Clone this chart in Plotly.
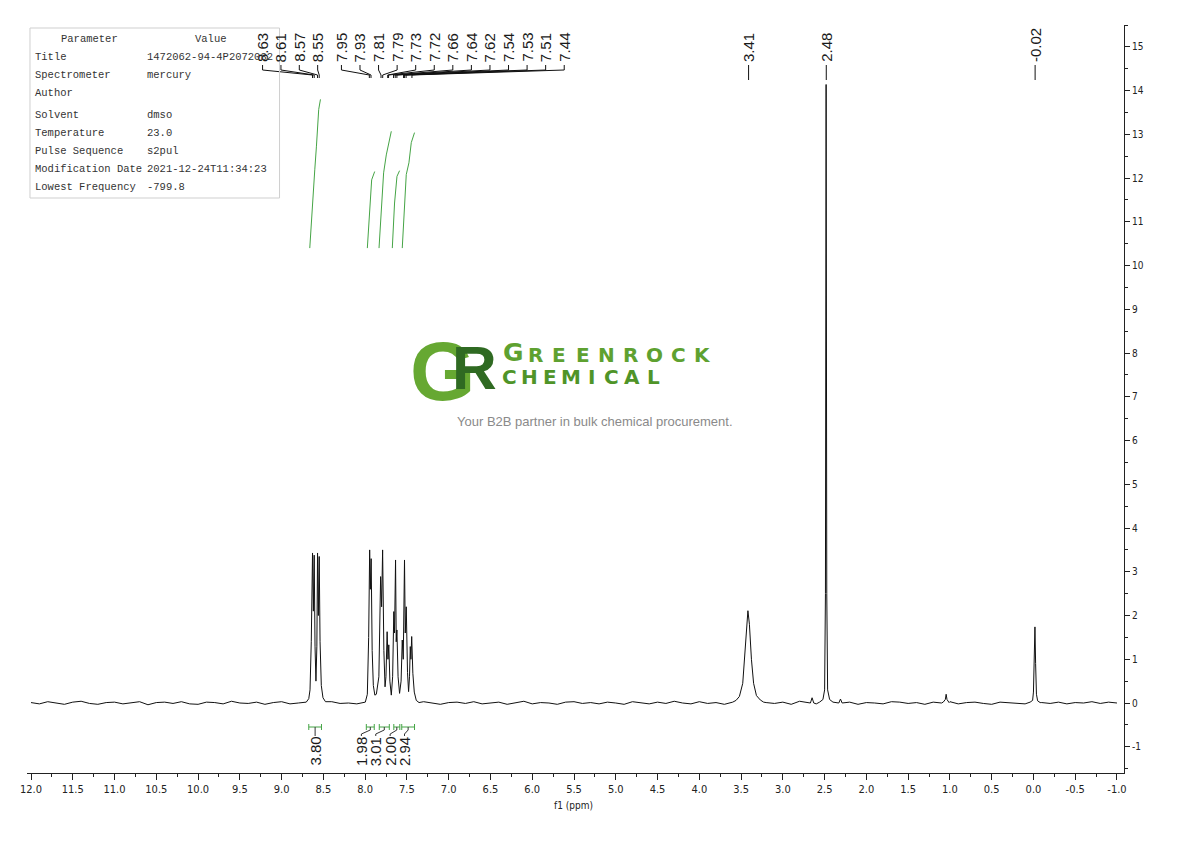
import numpy as np
import plotly.graph_objects as go

# ---------------- data ----------------
# baseline noise sampled every 0.1 ppm from 12.0 to -1.0
baseline_grid = np.round(np.arange(12.0, -1.0001, -0.1), 2)
baseline_noise = [
    0.01, -0.02, 0.03, 0.00, -0.03, 0.02, 0.04, -0.01, -0.03, 0.01,
    0.02, -0.02, 0.00, 0.03, -0.04, 0.01, 0.02, -0.01, 0.03, -0.02,
    -0.03, 0.02, 0.01, -0.02, 0.04, 0.00, -0.01, 0.02, -0.03, 0.01,
    0.03, -0.02, 0.00, 0.02, -0.04, 0.01, 0.03, -0.01, 0.00, -0.02,
    0.02, 0.04, -0.03, 0.01, -0.01, 0.02, -0.02, 0.03, 0.00, -0.03,
    0.01, 0.02, -0.01, 0.03, -0.02, 0.00, 0.02, -0.03, 0.01, 0.04,
    -0.02, 0.01, 0.00, -0.03, 0.02, 0.03, -0.01, 0.01, -0.02, 0.02,
    0.00, -0.03, 0.03, 0.01, -0.02, 0.02, -0.01, 0.04, 0.00, -0.02,
    0.03, -0.01, 0.01, -0.03, 0.02, 0.00, 0.03, -0.02, 0.01, -0.01,
    0.02, -0.03, 0.04, 0.00, -0.02, 0.01, 0.03, -0.01, 0.02, -0.03,
    0.01, 0.00, -0.02, 0.03, 0.02, -0.01, 0.01, -0.03, 0.02, 0.00,
    0.03, -0.02, 0.01, 0.02, -0.01, -0.03, 0.02, 0.01, 0.00, -0.02,
    0.03, 0.01, -0.01, 0.02, -0.02, 0.01, 0.00, 0.03, -0.01, 0.02, 0.00,
]

# peak clusters (ppm, intensity)
peak_a_ppm = [8.705, 8.675, 8.660, 8.645, 8.630, 8.620, 8.610, 8.600, 8.589,
              8.578, 8.570, 8.560, 8.550, 8.540, 8.525, 8.505, 8.475]
peak_a_int = [0.02, 0.10, 0.30, 1.40, 3.43, 2.10, 3.38, 1.30, 0.50,
              1.30, 3.43, 2.00, 3.35, 1.40, 0.40, 0.12, 0.03]

peak_b_ppm = [7.998, 7.974, 7.958, 7.946, 7.938, 7.928, 7.916, 7.902, 7.884, 7.866,
              7.836, 7.815, 7.803, 7.791, 7.776, 7.762, 7.751, 7.737, 7.727, 7.717,
              7.704, 7.687, 7.671, 7.657, 7.648, 7.636, 7.628, 7.620, 7.606, 7.588,
              7.570, 7.556, 7.544, 7.529, 7.520, 7.508, 7.493, 7.480, 7.469, 7.460,
              7.452, 7.443, 7.429, 7.412, 7.388, 7.355]
peak_b_int = [0.02, 0.20, 1.50, 3.50, 2.60, 3.30, 1.20, 0.40, 0.18, 0.20,
              0.60, 2.89, 2.20, 3.50, 1.20, 0.37, 0.60, 1.63, 1.00, 1.33,
              0.50, 0.18, 0.60, 2.09, 1.60, 3.27, 1.40, 1.67, 0.60, 0.22,
              0.50, 1.44, 1.00, 3.27, 1.60, 2.20, 0.70, 0.26, 0.60, 1.29,
              1.00, 1.52, 0.68, 0.25, 0.06, 0.01]

peak_water_ppm = [3.60, 3.56, 3.52, 3.48, 3.460, 3.440, 3.418, 3.400, 3.376, 3.350, 3.316, 3.27, 3.23]
peak_water_int = [0.02, 0.06, 0.15, 0.45, 0.95, 1.65, 2.11, 1.80, 1.00, 0.45, 0.17, 0.07, 0.02]

peak_dmso_ppm = [2.56, 2.52, 2.50, 2.490, 2.482, 2.474, 2.464, 2.44, 2.40]
peak_dmso_int = [0.02, 0.08, 0.30, 2.50, 14.14, 2.50, 0.30, 0.08, 0.02]

peak_small1_ppm = [2.67, 2.65, 2.63]
peak_small1_int = [0.00, 0.12, 0.00]
peak_small2_ppm = [2.33, 2.31, 2.29]
peak_small2_int = [0.00, 0.09, 0.00]
peak_small3_ppm = [1.08, 1.055, 1.045, 1.035, 1.01]
peak_small3_int = [0.02, 0.08, 0.20, 0.08, 0.01]

peak_tms_ppm = [0.04, 0.01, 0.000, -0.010, -0.018, -0.026, -0.036, -0.05, -0.08]
peak_tms_int = [0.02, 0.06, 0.25, 1.00, 1.74, 0.90, 0.20, 0.05, 0.01]

# peak pick labels
peak_labels_a = [8.63, 8.61, 8.57, 8.55]
peak_labels_b = [7.95, 7.93, 7.81, 7.79, 7.73, 7.72, 7.66, 7.64, 7.62, 7.54, 7.53, 7.51, 7.44]
peak_labels_single = [3.41, 2.48, -0.02]

# integrals
integral_values = [3.80, 1.98, 3.01, 2.00, 2.94]
integral_from = [8.675, 7.986, 7.831, 7.657, 7.562]
integral_to = [8.523, 7.891, 7.711, 7.585, 7.409]

# integral curves (ppm, curve height)
int_curve_ppm = [
    [8.663, 8.631, 8.603, 8.583, 8.556, 8.535],
    [7.974, 7.946, 7.922, 7.886],
    [7.834, 7.806, 7.779, 7.747, 7.707, 7.687],
    [7.675, 7.648, 7.619, 7.588],
    [7.556, 7.535, 7.508, 7.476, 7.448, 7.409],
]
int_curve_val = [
    [10.40, 11.50, 12.19, 12.73, 13.57, 13.80],
    [10.40, 11.35, 11.96, 12.15],
    [10.40, 11.43, 12.12, 12.53, 12.95, 13.07],
    [10.40, 11.43, 12.04, 12.17],
    [10.40, 11.28, 12.08, 12.35, 12.81, 13.04],
]

# parameter table
param_names = ["Title", "Spectrometer", "Author", "Solvent", "Temperature",
               "Pulse Sequence", "Modification Date", "Lowest Frequency"]
param_values = ["1472062-94-4P2072082", "mercury", "", "dmso", "23.0",
                "s2pul", "2021-12-24T11:34:23", "-799.8"]

x_ticks = np.round(np.arange(12.0, -1.0001, -0.5), 1)
y_ticks = list(range(-1, 16))

# ---------------- layout geometry ----------------
OFF = 8                      # page body margin
W, H = 1190 - 2 * OFF, 841 - 2 * OFF
PL, PR, PT, PB = 25, 1124, 25, 773       # plot area in window pixels
X_RANGE = [12.048, -1.084]
Y_RANGE = [-1.60, 15.50]


def px2x(px):
    return X_RANGE[0] + (px - PL) / (PR - PL) * (X_RANGE[1] - X_RANGE[0])


def py2y(py):
    return Y_RANGE[1] - (py - PT) / (PB - PT) * (Y_RANGE[1] - Y_RANGE[0])


def px2p(px):
    return (px - PL) / (PR - PL)


def py2p(py):
    return (PB - py) / (PB - PT)


PPM_PER_PX = (X_RANGE[0] - X_RANGE[1]) / (PR - PL)

ARIAL = "Liberation Sans, Arial, sans-serif"
NARROW = "Liberation Sans Narrow, DejaVu Sans Condensed, Roboto Condensed, Liberation Sans, sans-serif"
MONO = "Liberation Mono, DejaVu Sans Mono, monospace"
GREEN = "#45a445"

# ---------------- build spectrum ----------------
peaks = [
    (peak_a_ppm, peak_a_int), (peak_b_ppm, peak_b_int),
    (peak_water_ppm, peak_water_int), (peak_dmso_ppm, peak_dmso_int),
    (peak_small1_ppm, peak_small1_int), (peak_small2_ppm, peak_small2_int),
    (peak_small3_ppm, peak_small3_int), (peak_tms_ppm, peak_tms_int),
]
windows = [(min(p), max(p)) for p, _ in peaks]
pts = []
for g, n in zip(baseline_grid, baseline_noise):
    if not any(lo - 0.005 <= g <= hi + 0.005 for lo, hi in windows):
        pts.append((float(g), n))
for p, v in peaks:
    pts.extend(zip(p, v))
pts.sort(key=lambda t: -t[0])
spec_x = [p[0] for p in pts]
spec_y = [p[1] for p in pts]

fig = go.Figure()
fig.add_trace(go.Scatter(x=spec_x, y=spec_y, mode="lines",
                         line=dict(color="#111111", width=1), hoverinfo="skip"))

# integral curves
cx, cy = [], []
for xs, ys in zip(int_curve_ppm, int_curve_val):
    cx += xs + [None]
    cy += ys + [None]
fig.add_trace(go.Scatter(x=cx, y=cy, mode="lines",
                         line=dict(color=GREEN, width=1), hoverinfo="skip"))

# integral brackets
bx, by = [], []
yb = py2y(727)
tick = 3 * (Y_RANGE[1] - Y_RANGE[0]) / (PB - PT)
for a, b in zip(integral_from, integral_to):
    bx += [a, b, None, a, a, None, b, b, None]
    by += [yb, yb, None, yb - tick, yb + tick, None, yb - tick, yb + tick, None]
fig.add_trace(go.Scatter(x=bx, y=by, mode="lines",
                         line=dict(color=GREEN, width=1), hoverinfo="skip"))

# integral labels + connectors
annotations = []
int_label_x = [(integral_from[0] + integral_to[0]) / 2]
g2_start = px2x(360)
for i in range(1, len(integral_values)):
    int_label_x.append(g2_start - (i - 1) * 14.4 * PPM_PER_PX)
kx, ky = [], []
for i, v in enumerate(integral_values):
    c = (integral_from[i] + integral_to[i]) / 2
    lx = int_label_x[i]
    kx += [c, c, lx, lx, None]
    ky += [yb, py2y(730), py2y(734), py2y(736), None]
    annotations.append(dict(x=lx, y=py2y(735), xref="x", yref="y", text=f"{v:.2f}",
                            textangle=-90, showarrow=False, xanchor="center", yanchor="top",
                            font=dict(family=ARIAL, size=15, color="#1a1a1a")))
fig.add_trace(go.Scatter(x=kx, y=ky, mode="lines",
                         line=dict(color="#333333", width=1), hoverinfo="skip"))

# peak labels
lab_x, lab_peak = [], []
g1_start = px2x(261)
for i, v in enumerate(peak_labels_a):
    lab_x.append(g1_start - i * 18.4 * PPM_PER_PX)
    lab_peak.append(v)
g2 = px2x(340)
for i, v in enumerate(peak_labels_b):
    lab_x.append(g2 - i * 18.6 * PPM_PER_PX)
    lab_peak.append(v)
for v in peak_labels_single:
    lab_x.append(v)
    lab_peak.append(v)

lx_, ly_ = [], []
for lx, pv in zip(lab_x, lab_peak):
    if pv in peak_labels_single:
        lx_ += [lx, lx, None]
        ly_ += [py2y(65), py2y(80), None]
    else:
        lx_ += [lx, lx, pv, pv, None]
        ly_ += [py2y(65), py2y(70), py2y(75), py2y(78), None]
    annotations.append(dict(x=lx, y=py2y(64), xref="x", yref="y", text=f"{pv:.2f}",
                            textangle=-90, showarrow=False, xanchor="center", yanchor="bottom",
                            font=dict(family=ARIAL, size=15, color="#1a1a1a")))
fig.add_trace(go.Scatter(x=lx_, y=ly_, mode="lines",
                         line=dict(color="#111111", width=1), hoverinfo="skip"))

# parameter table
shapes = [dict(type="rect", xref="paper", yref="paper",
               x0=px2p(28), x1=px2p(278), y0=py2p(198), y1=py2p(28),
               line=dict(color="#cfcfcf", width=1), fillcolor="rgba(255,255,255,0)", layer="above")]
tfont = dict(family=MONO, size=10.5, color="#333333")
annotations.append(dict(x=px2p(88), y=py2p(39), xref="paper", yref="paper", text="Parameter",
                        showarrow=False, xanchor="center", yanchor="middle", font=tfont))
annotations.append(dict(x=px2p(209), y=py2p(39), xref="paper", yref="paper", text="Value",
                        showarrow=False, xanchor="center", yanchor="middle", font=tfont))
row_y = [57, 75, 93, 115, 133, 151, 169, 187]
for name, val, ry in zip(param_names, param_values, row_y):
    annotations.append(dict(x=px2p(31), y=py2p(ry), xref="paper", yref="paper", text=name,
                            showarrow=False, xanchor="left", yanchor="middle", font=tfont))
    if val:
        annotations.append(dict(x=px2p(143), y=py2p(ry), xref="paper", yref="paper", text=val,
                                showarrow=False, xanchor="left", yanchor="middle", font=tfont))

# logo watermark
annotations.append(dict(x=px2p(441), y=py2p(371), xref="paper", yref="paper", text="<b>G</b>",
                        showarrow=False, xanchor="center", yanchor="middle",
                        font=dict(family=ARIAL, size=84, color="#66a832")))
annotations.append(dict(x=px2p(473), y=py2p(367), xref="paper", yref="paper", text="<b>R</b>",
                        showarrow=False, xanchor="center", yanchor="middle",
                        font=dict(family=ARIAL, size=62, color="#2f6a22")))
word1 = "GREENROCK"
annotations.append(dict(x=px2p(512), y=py2p(352), xref="paper", yref="paper", text="<b>" + word1[0] + "</b>",
                        showarrow=False, xanchor="center", yanchor="middle",
                        font=dict(family="DejaVu Sans", size=25, color="#5ea130")))
for i, ch in enumerate(word1[1:]):
    annotations.append(dict(x=px2p(534 + i * 24.0), y=py2p(355), xref="paper", yref="paper",
                            text="<b>" + ch + "</b>",
                            showarrow=False, xanchor="center", yanchor="middle",
                            font=dict(family="DejaVu Sans", size=20, color="#5ea130")))
word2 = "CHEMICAL"
for i, ch in enumerate(word2):
    annotations.append(dict(x=px2p(508 + i * 20.6), y=py2p(377), xref="paper", yref="paper",
                            text="<b>" + ch + "</b>",
                            showarrow=False, xanchor="center", yanchor="middle",
                            font=dict(family="DejaVu Sans", size=20, color="#4f9428")))
annotations.append(dict(x=px2p(594), y=py2p(421), xref="paper", yref="paper",
                        text="Your B2B partner in bulk chemical procurement.",
                        showarrow=False, xanchor="center", yanchor="middle",
                        font=dict(family=ARIAL, size=13, color="#8a8a8a")))

# x axis title
annotations.append(dict(x=px2p(572), y=py2p(805), xref="paper", yref="paper", text="f1 (ppm)",
                        showarrow=False, xanchor="center", yanchor="middle",
                        font=dict(family=NARROW, size=10, color="#222222")))

fig.update_layout(
    width=W, height=H,
    margin=dict(l=PL - OFF, r=W - (PR - OFF), t=PT - OFF, b=H - (PB - OFF), pad=0),
    paper_bgcolor="white", plot_bgcolor="white",
    showlegend=False,
    annotations=annotations,
    shapes=shapes,
    xaxis=dict(range=X_RANGE, showgrid=False, zeroline=False, showline=True,
               linecolor="#222222", linewidth=1, ticks="outside", ticklen=6,
               tickcolor="#222222", tickmode="array", tickvals=list(x_ticks),
               ticktext=[f"{v + 0.0:.1f}" for v in x_ticks],
               tickfont=dict(family=NARROW, size=11, color="#222222"),
               minor=dict(tickmode="linear", tick0=0, dtick=0.25, ticks="outside",
                          ticklen=3, tickcolor="#222222", showgrid=False)),
    yaxis=dict(range=Y_RANGE, side="right", showgrid=False, zeroline=False, showline=True,
               linecolor="#222222", linewidth=1, ticks="outside", ticklen=5,
               tickcolor="#222222", tickmode="array", tickvals=y_ticks,
               ticktext=[str(v) for v in y_ticks],
               tickfont=dict(family=NARROW, size=10, color="#222222"),
               minor=dict(tickmode="linear", tick0=0, dtick=0.5, ticks="outside",
                          ticklen=3, tickcolor="#222222", showgrid=False)),
)

fig.write_html("out.html")
